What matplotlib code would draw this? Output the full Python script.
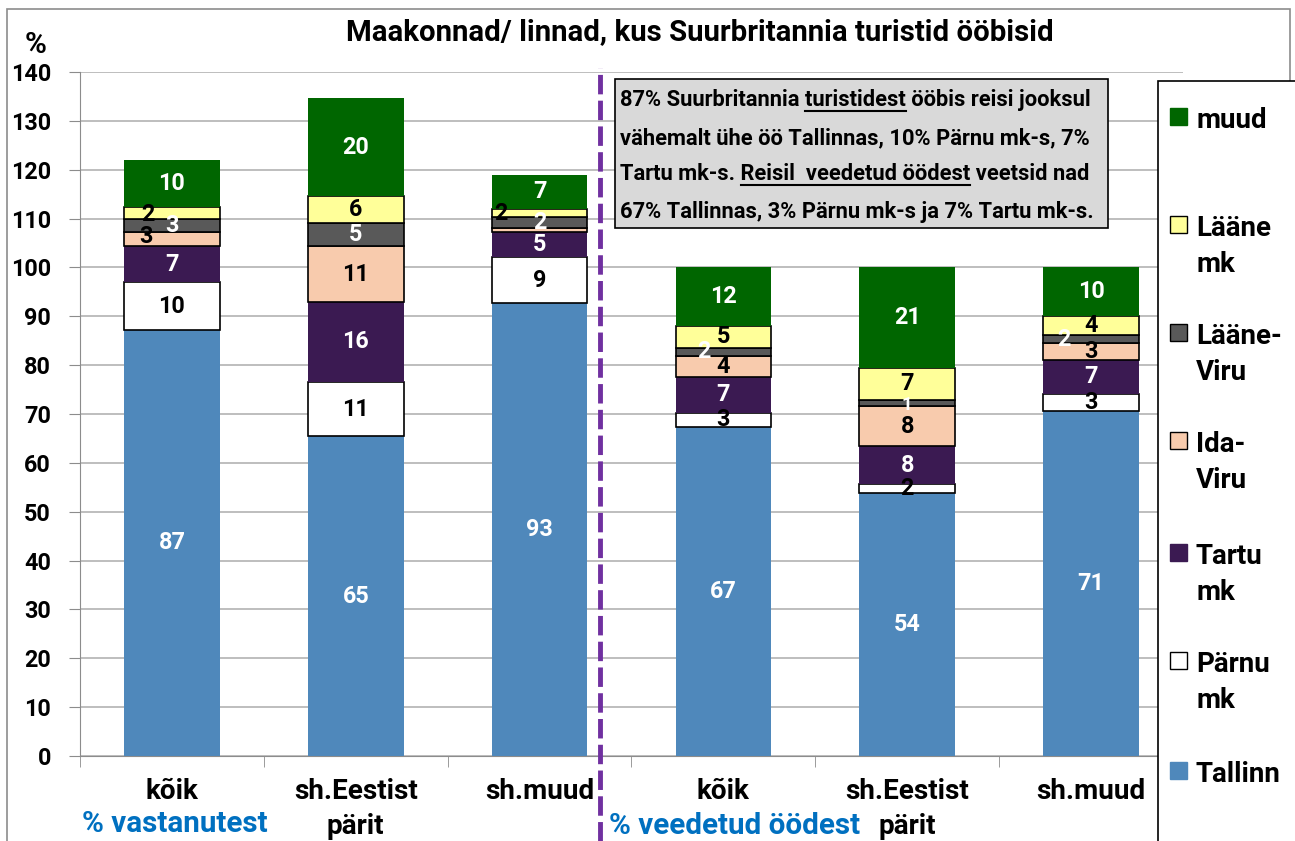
import matplotlib
matplotlib.use("Agg")
import matplotlib.pyplot as plt
import numpy as np
from matplotlib.patches import Rectangle
from matplotlib.lines import Line2D

plt.rcParams['font.family'] = ['Roboto', 'DejaVu Sans']
plt.rcParams['font.weight'] = 'bold'

# ================= data =================
groups = ['kõik', 'sh.Eestist\npärit', 'sh.muud', 'kõik', 'sh.Eestist\npärit', 'sh.muud']
tallinn = [87.2, 65.4, 92.7, 67.3, 53.9, 70.7]
parnu = [9.8, 11.2, 9.4, 3.0, 1.7, 3.4]
tartu = [7.4, 16.4, 5.2, 7.2, 7.8, 7.0]
idaviru = [2.9, 11.3, 0.7, 4.4, 8.2, 3.4]
laaneviru = [2.7, 4.7, 2.3, 1.6, 1.3, 1.6]
laane = [2.4, 5.6, 1.7, 4.6, 6.6, 4.0]
muud = [9.6, 20.0, 7.0, 11.9, 20.6, 9.9]

series_names = ['Tallinn', 'Pärnu\nmk', 'Tartu\nmk', 'Ida-\nViru', 'Lääne-\nViru', 'Lääne\nmk', 'muud']
series_vals = [tallinn, parnu, tartu, idaviru, laaneviru, laane, muud]
series_colors = ['#4F88BB', '#FFFFFF', '#3B1A52', '#F8CBAD', '#595959', '#FFFF99', '#006600']
series_edges = ['none', 'black', 'none', 'black', 'black', 'black', 'none']
label_colors = ['white', 'black', 'white', 'black', 'white', 'black', 'white']

# nudges for crowded labels: (series index, bar index) -> (dx px, dy px down, size factor)
nudges = {(5, 0): (-24, 2, 1.0), (3, 0): (-26, -2, 1.0), (5, 2): (-39, 1, 1.0),
          (4, 3): (-19, 0, 1.0), (4, 5): (-27, 0, 1.0), (4, 4): (0, 2, 0.8)}

info_lines = [
    [('87% Suurbritannia ', False), ('turistidest', True), (' ööbis reisi jooksul', False)],
    [('vähemalt ühe öö Tallinnas, 10% Pärnu mk-s, 7%', False)],
    [('Tartu mk-s. ', False), ('Reisil  veedetud öödest', True), (' veetsid nad', False)],
    [('67% Tallinnas, 3% Pärnu mk-s ja 7% Tartu mk-s.', False)],
]

W, H = 1295, 841
fig = plt.figure(figsize=(W / 100, H / 100), dpi=100)
renderer = fig.canvas.get_renderer()


def fx(px):
    return px / W


def fy(py):
    return 1 - py / H


def text_width(s, size):
    t = fig.text(0, 0, s, fontsize=size, fontweight='bold')
    w = t.get_window_extent(renderer).width
    t.remove()
    return w


def fit_size(s, target_px):
    # font size that makes s about target_px wide
    return 10 * target_px / text_width(s, 10)


fs_title = fit_size('Maakonnad/ linnad, kus Suurbritannia turistid ööbisid', 710)
fs_info = fit_size('87% Suurbritannia turistidest ööbis reisi jooksul', 472)
fs_num = fit_size('140', 40)
fs_pct = fit_size('%', 22)
fs_cat = fit_size('sh.Eestist', 124)
fs_leg = fit_size('Tallinn', 85)
fs_blue = fit_size('% vastanutest', 186)

ax = fig.add_axes([fx(80), fy(756), fx(1183) - fx(80), fy(72) - fy(756)])

x = np.arange(len(groups))
bottom = np.zeros(len(groups))
width = 0.52
for si, vals in enumerate(series_vals):
    vals = np.array(vals)
    ax.bar(x, vals, width, bottom=bottom, color=series_colors[si],
           edgecolor=series_edges[si], linewidth=1.2, zorder=3)
    for bi, v in enumerate(vals):
        if v < 1:
            continue
        dx, dy, k = nudges.get((si, bi), (0, 0, 1.0))
        ax.annotate(f'{v:.0f}', (x[bi], bottom[bi] + v / 2), xytext=(dx, -dy),
                    textcoords='offset pixels', ha='center', va='center',
                    fontsize=fs_num * k, fontweight='bold', color=label_colors[si], zorder=5)
    bottom += vals

ax.set_xlim(-0.5, 5.5)
ax.set_ylim(0, 140)
ax.set_yticks(np.arange(0, 141, 10))
ax.set_yticklabels([str(t) for t in range(0, 141, 10)], fontsize=fs_num, fontweight='bold')
ax.yaxis.grid(True, color='#B3B3B3', linewidth=1.2, zorder=0)
ax.set_axisbelow(True)
ax.set_xticks(x)
ax.set_xticklabels(groups, fontsize=fs_cat, fontweight='bold', linespacing=1.35)
ax.tick_params(axis='x', length=0, pad=16)
ax.set_xticks(np.arange(-0.5, 6, 1), minor=True)
ax.tick_params(axis='x', which='minor', length=8, color='#8C8C8C')
ax.tick_params(axis='y', length=8, color='#8C8C8C', pad=13)
for s in ['top', 'right']:
    ax.spines[s].set_visible(False)
for s in ['left', 'bottom']:
    ax.spines[s].set_color('#8C8C8C')

# outer chart frame
fig.patches.append(Rectangle((fx(7), -0.01), fx(1290) - fx(7), fy(9) + 0.01,
                             transform=fig.transFigure, fill=False,
                             edgecolor='#8C8C8C', linewidth=1.2, zorder=0))

fig.text(fx(700), fy(32), 'Maakonnad/ linnad, kus Suurbritannia turistid ööbisid',
         ha='center', va='center', fontsize=fs_title, fontweight='bold')
fig.text(fx(36), fy(45), '%', ha='center', va='center', fontsize=fs_pct, fontweight='bold')
fig.text(fx(175), fy(824), '% vastanutest', ha='center', va='center',
         fontsize=fs_blue, fontweight='bold', color='#0070C0')
fig.text(fx(735), fy(826), '% veedetud öödest', ha='center', va='center',
         fontsize=fs_blue, fontweight='bold', color='#0070C0')

# dashed divider
fig.add_artist(Line2D([fx(600), fx(600)], [0, fy(68)], transform=fig.transFigure,
                      color='#7030A0', linewidth=3.5, linestyle=(0, (4, 1.3)), zorder=6))

# info box
fig.patches.append(Rectangle((fx(615), fy(228)), fx(1108) - fx(615), fy(79) - fy(228),
                             transform=fig.transFigure, facecolor='#D9D9D9',
                             edgecolor='black', linewidth=1.2, zorder=7))
line_y = [100, 138, 174, 212]
for li, parts in enumerate(info_lines):
    full = ''.join(p[0] for p in parts)
    fig.text(fx(620), fy(line_y[li]), full, ha='left', va='center',
             fontsize=fs_info, fontweight='bold', zorder=8)
    prefix = ''
    for txt, und in parts:
        if und:
            end = text_width(prefix + txt, fs_info)
            w = text_width(txt, fs_info)
            fig.add_artist(Line2D([fx(620 + end - w), fx(620 + end)],
                                  [fy(line_y[li] + 11)] * 2, transform=fig.transFigure,
                                  color='black', linewidth=1.5, zorder=8))
        prefix += txt

# legend box
fig.patches.append(Rectangle((fx(1158), -0.01), 0.2, fy(81) + 0.01,
                             transform=fig.transFigure, facecolor='white',
                             edgecolor='black', linewidth=1.2, zorder=7))
leg_y = [771, 661, 553, 441, 333, 225, 117]
for si in range(len(series_names)):
    yy = leg_y[si]
    fig.patches.append(Rectangle((fx(1170), fy(yy + 8)), fx(17), fy(0) - fy(17),
                                 transform=fig.transFigure, facecolor=series_colors[si],
                                 edgecolor='black' if series_edges[si] != 'none' else series_colors[si],
                                 linewidth=1, zorder=8))
    fig.text(fx(1196), fy(yy - 10), series_names[si], ha='left', va='top',
             fontsize=fs_leg, fontweight='bold', linespacing=1.45, zorder=8)

fig.savefig('out.png', dpi=100)
